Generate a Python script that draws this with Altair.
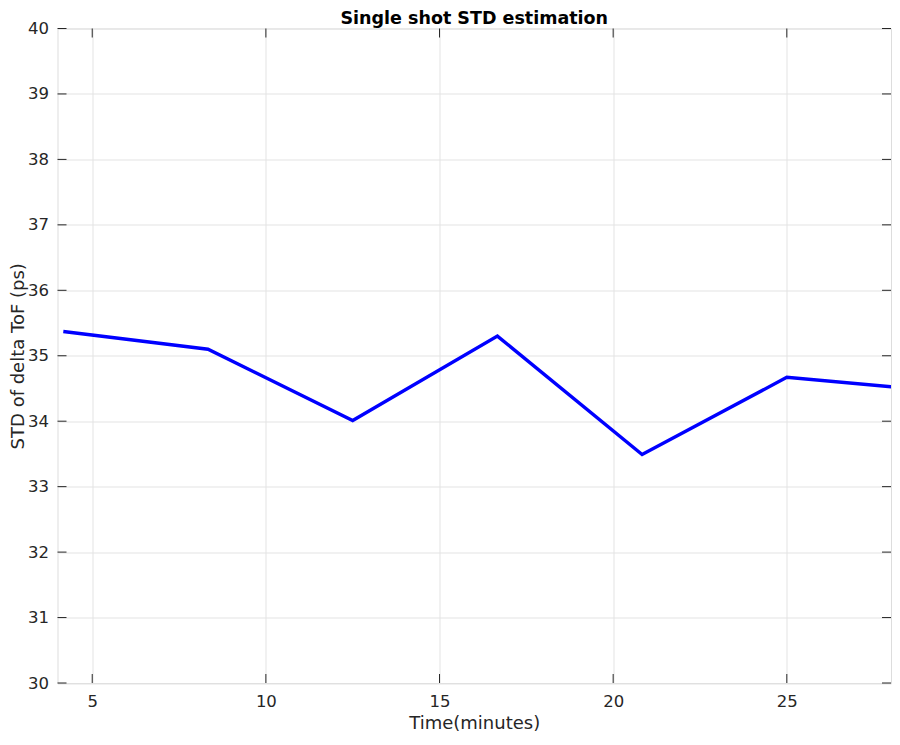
import altair as alt
import pandas as pd

# Data
time_min = [4.167, 8.333, 12.5, 16.667, 20.833, 25.0, 29.167]
std_ps = [35.37, 35.10, 34.01, 35.30, 33.49, 34.67, 34.47]

x_ticks = [5, 10, 15, 20, 25]
y_ticks = [30, 31, 32, 33, 34, 35, 36, 37, 38, 39, 40]
TITLE = "Single shot STD estimation"

df = pd.DataFrame({"t": time_min, "s": std_ps})
xt = pd.DataFrame({"v": x_ticks})
yt = pd.DataFrame({"v": y_ticks})
tt = pd.DataFrame({"title": [TITLE]})

FONT = "DejaVu Sans"
AX = "#262626"
W, H = 833.5, 654.5
TICK = 9

xscale = alt.Scale(domain=[4, 28], nice=False, zero=False)
yscale = alt.Scale(domain=[30, 40], nice=False, zero=False)

line = alt.Chart(df).mark_line(color="#0000ff", strokeWidth=3.4, clip=True).encode(
    x=alt.X("t:Q", scale=xscale,
            axis=alt.Axis(values=x_ticks, format="d", title="Time(minutes)", grid=True,
                          gridColor="#e3e3e3", gridWidth=1, ticks=False, tickSize=0,
                          domain=False, labelFont=FONT, labelFontSize=16.5,
                          labelColor=AX, labelPadding=23, labelBaseline="alphabetic",
                          titleFont=FONT, titleFontSize=18, titleFontWeight="normal",
                          titleColor=AX, titleBaseline="alphabetic",
                          titleX=W / 2, titleY=45)),
    y=alt.Y("s:Q", scale=yscale,
            axis=alt.Axis(values=y_ticks, format="d", title="STD of delta ToF (ps)", grid=True,
                          gridColor="#e3e3e3", gridWidth=1, ticks=False, tickSize=0,
                          domain=False, labelFont=FONT, labelFontSize=16.5,
                          labelColor=AX, labelPadding=9, titleFont=FONT,
                          titleFontSize=18, titleFontWeight="normal",
                          titleColor=AX, titleBaseline="alphabetic",
                          titleX=-34.5, titleY=H / 2)),
)

# inward ticks on all four sides (MATLAB style box)
ytick_l = alt.Chart(yt).mark_rule(color=AX, strokeWidth=1).encode(
    y=alt.Y("v:Q", scale=yscale), x=alt.value(0), x2=alt.value(TICK))
ytick_r = alt.Chart(yt).mark_rule(color=AX, strokeWidth=1).encode(
    y=alt.Y("v:Q", scale=yscale), x=alt.value(W - TICK), x2=alt.value(W))
xtick_b = alt.Chart(xt).mark_rule(color=AX, strokeWidth=1).encode(
    x=alt.X("v:Q", scale=xscale), y=alt.value(H - TICK), y2=alt.value(H))
xtick_t = alt.Chart(xt).mark_rule(color=AX, strokeWidth=1).encode(
    x=alt.X("v:Q", scale=xscale), y=alt.value(0), y2=alt.value(TICK))

title = alt.Chart(tt).mark_text(font=FONT, fontSize=17.5, fontWeight="bold",
                                color="#000000", align="center",
                                baseline="alphabetic").encode(
    text="title:N", x=alt.value(W / 2), y=alt.value(-4.2))

chart = alt.layer(line, ytick_l, ytick_r, xtick_b, xtick_t, title).properties(
    width=W, height=H,
    autosize=alt.AutoSizeParams(type="none"),
    padding={"left": 49.5, "top": 20.5, "right": 1, "bottom": 48},
).configure_view(stroke=AX, strokeWidth=1.2).configure(background="white")

chart.save("out.html", embed_options={"renderer": "svg", "actions": False})
